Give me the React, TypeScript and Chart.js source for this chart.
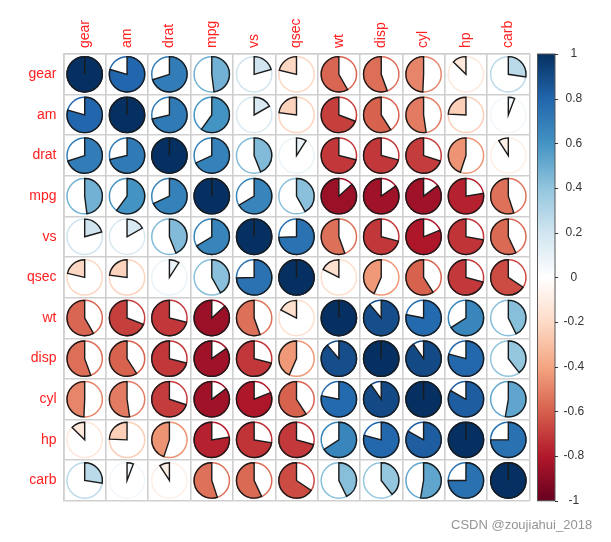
import React, { useEffect, useRef } from "react";
import { Chart, registerables } from "chart.js";

Chart.register(...registerables);

const varNames = ["gear", "am", "drat", "mpg", "vs", "qsec", "wt", "disp", "cyl", "hp", "carb"];

const gearRow = [1, 0.794, 0.7, 0.48, 0.206, -0.213, -0.583, -0.556, -0.493, -0.126, 0.274];
const amRow = [0.794, 1, 0.713, 0.6, 0.168, -0.23, -0.692, -0.591, -0.523, -0.243, 0.058];
const dratRow = [0.7, 0.713, 1, 0.681, 0.44, 0.091, -0.712, -0.71, -0.7, -0.449, -0.091];
const mpgRow = [0.48, 0.6, 0.681, 1, 0.664, 0.419, -0.868, -0.848, -0.852, -0.776, -0.551];
const vsRow = [0.206, 0.168, 0.44, 0.664, 1, 0.745, -0.555, -0.71, -0.811, -0.723, -0.57];
const qsecRow = [-0.213, -0.23, 0.091, 0.419, 0.745, 1, -0.175, -0.434, -0.591, -0.708, -0.656];
const wtRow = [-0.583, -0.692, -0.712, -0.868, -0.555, -0.175, 1, 0.888, 0.782, 0.659, 0.428];
const dispRow = [-0.556, -0.591, -0.71, -0.848, -0.71, -0.434, 0.888, 1, 0.902, 0.791, 0.395];
const cylRow = [-0.493, -0.523, -0.7, -0.852, -0.811, -0.591, 0.782, 0.902, 1, 0.832, 0.527];
const hpRow = [-0.126, -0.243, -0.449, -0.776, -0.723, -0.708, 0.659, 0.791, 0.832, 1, 0.75];
const carbRow = [0.274, 0.058, -0.091, -0.551, -0.57, -0.656, 0.428, 0.395, 0.527, 0.75, 1];

const corrRows = [gearRow, amRow, dratRow, mpgRow, vsRow, qsecRow, wtRow, dispRow, cylRow, hpRow, carbRow];

const paletteStops = ["#67001F", "#B2182B", "#D6604D", "#F4A582", "#FDDBC7", "#FFFFFF", "#D1E5F0", "#92C5DE", "#4393C3", "#2166AC", "#053061"];
const legendTicks = [-1, -0.8, -0.6, -0.4, -0.2, 0, 0.2, 0.4, 0.6, 0.8, 1];
const watermark = "CSDN @zoujiahui_2018";

function hexToRgb(h: string) {
  const n = parseInt(h.slice(1), 16);
  return [(n >> 16) & 255, (n >> 8) & 255, n & 255];
}
function colorFor(v: number) {
  const t = ((Math.max(-1, Math.min(1, v)) + 1) / 2) * (paletteStops.length - 1);
  const i = Math.min(Math.floor(t), paletteStops.length - 2);
  const f = t - i;
  const a = hexToRgb(paletteStops[i]);
  const b = hexToRgb(paletteStops[i + 1]);
  const c = a.map((x, k) => Math.round(x + (b[k] - x) * f));
  return `rgb(${c[0]},${c[1]},${c[2]})`;
}

const FONT = "'Liberation Sans', Arial, sans-serif";

export default function App() {
  const ref = useRef<HTMLCanvasElement | null>(null);
  useEffect(() => {
    if (!ref.current) return;
    const points: any[] = [];
    corrRows.forEach((row, r) => {
      row.forEach((v, c) => {
        points.push({ x: varNames[c], y: varNames[r], v });
      });
    });

    const piePlugin = {
      id: "pies",
      afterDatasetsDraw(chart: any) {
        const ctx = chart.ctx;
        const meta = chart.getDatasetMeta(0);
        const xs = chart.scales.x;
        const ys = chart.scales.y;
        const cell = Math.min(xs.width / varNames.length, ys.height / varNames.length);
        const R = cell * 0.435;
        ctx.save();
        meta.data.forEach((el: any, k: number) => {
          const v = points[k].v;
          const col = colorFor(v);
          const x = el.x;
          const y = el.y;
          ctx.beginPath();
          ctx.arc(x, y, R, 0, Math.PI * 2);
          ctx.strokeStyle = col;
          ctx.lineWidth = 1.5;
          ctx.stroke();
          const start = -Math.PI / 2;
          const sweep = Math.abs(v) * Math.PI * 2;
          const end = v >= 0 ? start + sweep : start - sweep;
          ctx.beginPath();
          ctx.moveTo(x, y);
          ctx.arc(x, y, R, start, end, v < 0);
          ctx.closePath();
          ctx.fillStyle = col;
          ctx.fill();
          ctx.strokeStyle = "#1a1a1a";
          ctx.lineWidth = 1.4;
          ctx.lineJoin = "miter";
          ctx.stroke();
        });
        // top (column) labels, rotated, centred on each column through the x scale
        ctx.font = `14px ${FONT}`;
        ctx.fillStyle = "#ff2020";
        ctx.textAlign = "left";
        ctx.textBaseline = "middle";
        varNames.forEach((name, i) => {
          const px = xs.getPixelForValue(i);
          ctx.save();
          ctx.translate(px, xs.bottom - 6);
          ctx.rotate(-Math.PI / 2);
          ctx.fillText(name, 0, 0);
          ctx.restore();
        });
        ctx.restore();
      },
    };

    const legendPlugin = {
      id: "colorbar",
      afterDraw(chart: any) {
        const ctx = chart.ctx;
        const cb = chart.scales.cb;
        const left = cb.left + 8;
        const w = 17.5;
        const top = cb.getPixelForValue(1);
        const bottom = cb.getPixelForValue(-1);
        ctx.save();
        const g = ctx.createLinearGradient(0, bottom, 0, top);
        paletteStops.forEach((c, i) => g.addColorStop(i / (paletteStops.length - 1), c));
        ctx.fillStyle = g;
        ctx.fillRect(left, top, w, bottom - top);
        ctx.strokeStyle = "#555";
        ctx.lineWidth = 1;
        ctx.strokeRect(left, top, w, bottom - top);
        ctx.strokeStyle = "#333";
        ctx.beginPath();
        legendTicks.forEach((t) => {
          const py = Math.round(cb.getPixelForValue(t)) + 0.5;
          ctx.moveTo(left + w, py);
          ctx.lineTo(left + w + 3, py);
        });
        ctx.stroke();
        ctx.font = `13px ${FONT}`;
        ctx.fillStyle = "rgba(130,130,130,0.85)";
        ctx.textAlign = "left";
        ctx.textBaseline = "middle";
        ctx.fillText(watermark, 451, 525);
        ctx.restore();
      },
    };

    const chart = new Chart(ref.current, {
      type: "scatter",
      data: {
        datasets: [
          {
            data: points,
            pointRadius: 0,
            pointHoverRadius: 0,
          } as any,
        ],
      },
      options: {
        animation: false,
        responsive: false,
        events: [],
        layout: { padding: { top: 0, left: 0, right: 0, bottom: 23 } },
        plugins: { legend: { display: false }, tooltip: { enabled: false } },
        scales: {
          x: {
            type: "category",
            labels: varNames,
            position: "top",
            offset: true,
            grid: { offset: true, color: "#cfcfcf", lineWidth: 1.6, drawTicks: false },
            border: { color: "#cfcfcf", width: 1.6 },
            ticks: { display: false, autoSkip: false },
            afterFit: (s: any) => {
              s.height = 54;
            },
          },
          y: {
            type: "category",
            labels: varNames,
            position: "left",
            offset: true,
            grid: { offset: true, color: "#cfcfcf", lineWidth: 1.6, drawTicks: false },
            border: { color: "#cfcfcf", width: 1.6 },
            ticks: {
              color: "#ff2020",
              font: { size: 14, family: FONT },
              padding: 7,
              autoSkip: false,
            },
            afterFit: (s: any) => {
              s.width = 63.5;
            },
          },
          cb: {
            type: "linear",
            position: "right",
            min: -1,
            max: 1,
            grid: { display: false, drawTicks: false },
            border: { display: false },
            ticks: {
              stepSize: 0.2,
              color: "#333",
              font: { size: 12, family: FONT },
              padding: 34,
              crossAlign: "center",
              callback: (v: any) => String(Math.round(Number(v) * 10) / 10),
            },
            afterFit: (s: any) => {
              s.width = 81.5;
            },
          } as any,
        },
      },
      plugins: [piePlugin, legendPlugin],
    });
    return () => chart.destroy();
  }, []);

  return (
    <div style={{ position: "absolute", left: 0, top: 0, width: 611, height: 542, background: "#fff" }}>
      <canvas ref={ref} width={611} height={542} style={{ width: 611, height: 542 }} />
    </div>
  );
}
